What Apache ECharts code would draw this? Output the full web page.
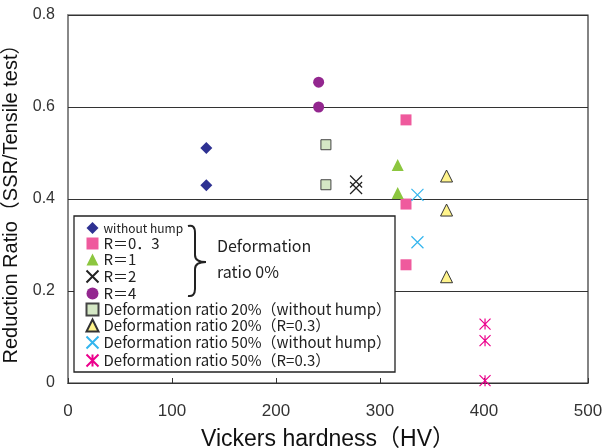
<!DOCTYPE html>
<html><head><meta charset="utf-8">
<script src="https://cdn.jsdelivr.net/npm/echarts@6/dist/echarts.min.js"></script>
<style>html,body{margin:0;padding:0;background:#fff}#c{width:607px;height:448px}</style>
</head><body><div id="c"></div>
<script>
// Data (Vickers hardness HV, reduction ratio)
const xTicks = [0, 100, 200, 300, 400, 500];
const yTicks = [0, 0.2, 0.4, 0.6, 0.8];
const withoutHump = [[133, 0.511], [133, 0.430]];
const r03 = [[325, 0.572], [325, 0.389], [325, 0.257]];
const r1 = [[317, 0.474], [317, 0.413]];
const r2 = [[277, 0.438], [277, 0.424]];
const r4 = [[241, 0.654], [241, 0.600]];
const def20NoHump = [[248, 0.518], [248, 0.431]];
const def20R03 = [[364, 0.450], [364, 0.376], [364, 0.231]];
const def50NoHump = [[336, 0.409], [336, 0.306]];
const def50R03 = [[401, 0.128], [401, 0.092], [401, 0.005]];

const names = ['without hump', 'R＝0．3', 'R＝1', 'R＝2', 'R＝4',
  'Deformation ratio 20%（without hump）', 'Deformation ratio 20%（R=0.3）',
  'Deformation ratio 50%（without hump）', 'Deformation ratio 50%（R=0.3）'];

const xPath = 'path://M0,0L10,10M10,0L0,10';
const starPath = 'path://M0,0L10,10M10,0L0,10M5,0L5,10';

const chart = echarts.init(document.getElementById('c'), null, {renderer: 'canvas'});
const axisFont = 'Liberation Sans, Arial, Noto Sans CJK JP, sans-serif';
const legFont = 'Noto Sans CJK JP, Liberation Sans, sans-serif';

function sc(name, data, symbol, size, itemStyle) {
  return {type: 'scatter', name, data, symbol, symbolSize: size,
    itemStyle: Object.assign({opacity: 1}, itemStyle), z: 6};
}
const braceStyle = {fill: 'none', stroke: '#222', lineWidth: 2};
function bz(x1, y1, cx, cy, x2, y2) {
  return {type: 'bezierCurve', z: 7, shape: {x1, y1, x2, y2, cpx1: cx, cpy1: cy}, style: braceStyle};
}
function ln(x1, y1, x2, y2) {
  return {type: 'line', z: 7, shape: {x1, y1, x2, y2}, style: braceStyle};
}

chart.setOption({
  animation: false,
  backgroundColor: '#fff',
  grid: {left: 68, right: 19, top: 15, bottom: 65, show: true, borderColor: '#333', borderWidth: 1.2,
    containLabel: false, outerBoundsMode: 'none'},
  xAxis: {
    type: 'value', min: xTicks[0], max: xTicks[xTicks.length - 1], interval: 100,
    name: 'Vickers hardness（HV）', nameLocation: 'middle', nameGap: 45,
    nameTextStyle: {fontSize: 23, color: '#111', fontFamily: axisFont},
    axisLine: {show: true, lineStyle: {color: '#333', width: 1.2}},
    axisTick: {show: true, inside: true, length: 5, lineStyle: {color: '#333'}},
    axisLabel: {fontSize: 17, color: '#333', margin: 20, fontFamily: axisFont},
    splitLine: {show: false}
  },
  yAxis: {
    type: 'value', min: yTicks[0], max: yTicks[yTicks.length - 1], interval: 0.2,
    name: 'Reduction Ratio（SSR/Tensile test）', nameLocation: 'middle', nameGap: 41,
    nameTextStyle: {fontSize: 20, color: '#111', fontFamily: axisFont},
    axisLine: {show: true, lineStyle: {color: '#888', width: 2}},
    axisTick: {show: true, inside: true, length: 4, lineStyle: {color: '#333'}},
    axisLabel: {fontSize: 16, color: '#333', margin: 13, fontFamily: axisFont,
      formatter: v => v === 0 ? '0' : v.toFixed(1)},
    splitLine: {show: true, lineStyle: {color: '#333', width: 1.2}}
  },
  legend: {
    orient: 'vertical', left: 84, top: 221, padding: 0, itemWidth: 12, itemHeight: 12, itemGap: 1,
    data: names, selectedMode: false,
    textStyle: {fontSize: 15, lineHeight: 14, color: '#222', fontFamily: legFont,
      rich: {s: {fontSize: 12, lineHeight: 14, color: '#222', fontFamily: legFont}}},
    formatter: n => n === 'without hump' ? '{s|' + n + '}' : n,
    z: 6
  },
  graphic: [
    {type: 'rect', shape: {x: 74, y: 216, width: 321, height: 156}, z: 3,
      style: {fill: '#fff', stroke: '#222', lineWidth: 1.3}},
    bz(188, 226, 195, 224, 195, 233),
    ln(195, 233, 195, 255),
    bz(195, 255, 195, 262, 206, 262),
    bz(206, 262, 195, 262, 195, 269),
    ln(195, 269, 195, 289),
    bz(195, 289, 195, 297, 188, 296),
    {type: 'text', z: 7, x: 217, y: 246, style: {text: 'Deformation', font: '16px ' + legFont,
      fill: '#222', verticalAlign: 'middle'}},
    {type: 'text', z: 7, x: 217, y: 272, style: {text: 'ratio 0%', font: '16px ' + legFont,
      fill: '#222', verticalAlign: 'middle'}}
  ],
  series: [
    sc(names[0], withoutHump, 'diamond', 12, {color: '#2E3192'}),
    sc(names[1], r03, 'rect', 11, {color: '#EF5A9D'}),
    sc(names[2], r1, 'triangle', 12, {color: '#8CC63F'}),
    sc(names[3], r2, xPath, 12, {color: 'none', borderColor: '#222', borderWidth: 1.2}),
    sc(names[4], r4, 'circle', 11, {color: '#93278F'}),
    sc(names[5], def20NoHump, 'rect', 10, {color: '#D5E8C5', borderColor: '#444', borderWidth: 1}),
    sc(names[6], def20R03, 'triangle', 12, {color: '#FFF48C', borderColor: '#333', borderWidth: 1}),
    sc(names[7], def50NoHump, xPath, 12, {color: 'none', borderColor: '#33B5EE', borderWidth: 1.2}),
    sc(names[8], def50R03, starPath, 11, {color: 'none', borderColor: '#EC008C', borderWidth: 1.2})
  ]
});
</script></body></html>
